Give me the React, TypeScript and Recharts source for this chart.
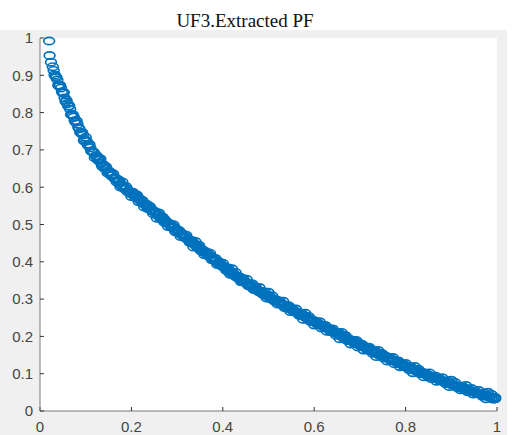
import { ScatterChart, Scatter, XAxis, YAxis } from 'recharts';

const TITLE = 'UF3.Extracted PF';
const xTicks = [0, 0.2, 0.4, 0.6, 0.8, 1];
const yTicks = [0, 0.1, 0.2, 0.3, 0.4, 0.5, 0.6, 0.7, 0.8, 0.9, 1];

// "core" points sit on the middle of the band, "spread" ones give it its width.
const frontTop: [number, number][] = [
  [0.020, 0.992], [0.021, 0.953], [0.024, 0.935],
];

const frontHeadCore: [number, number][] = [
  [0.030, 0.913], [0.034, 0.897], [0.038, 0.888], [0.042, 0.872], [0.046, 0.866],
  [0.050, 0.852], [0.054, 0.839], [0.058, 0.833], [0.062, 0.817], [0.066, 0.809],
  [0.070, 0.794], [0.074, 0.788], [0.078, 0.774], [0.082, 0.769], [0.086, 0.757],
  [0.090, 0.745], [0.094, 0.740], [0.098, 0.728], [0.102, 0.724], [0.106, 0.711],
  [0.110, 0.706], [0.114, 0.695], [0.118, 0.693], [0.122, 0.684], [0.126, 0.675],
  [0.130, 0.674], [0.134, 0.664], [0.138, 0.661], [0.142, 0.650], [0.146, 0.649],
  [0.150, 0.640], [0.154, 0.640], [0.158, 0.632], [0.162, 0.625], [0.166, 0.624],
  [0.170, 0.616], [0.174, 0.615], [0.178, 0.605], [0.182, 0.604], [0.186, 0.595],
  [0.190, 0.596], [0.194, 0.590], [0.198, 0.583],
];

const frontHeadSpread: [number, number][] = [
  [0.028, 0.923], [0.032, 0.901], [0.036, 0.894], [0.040, 0.873], [0.044, 0.873],
  [0.048, 0.856], [0.052, 0.854], [0.056, 0.829], [0.060, 0.824], [0.064, 0.818],
  [0.068, 0.795], [0.072, 0.794], [0.076, 0.778], [0.080, 0.778], [0.084, 0.760],
  [0.088, 0.747], [0.092, 0.747], [0.096, 0.725], [0.100, 0.734], [0.104, 0.715],
  [0.108, 0.715], [0.112, 0.697], [0.116, 0.695], [0.120, 0.679], [0.124, 0.684],
  [0.128, 0.672], [0.132, 0.676], [0.136, 0.656], [0.140, 0.656], [0.144, 0.655],
  [0.148, 0.638], [0.152, 0.641], [0.156, 0.631], [0.160, 0.636], [0.164, 0.623],
  [0.168, 0.614], [0.172, 0.619], [0.176, 0.601], [0.180, 0.614], [0.184, 0.599],
  [0.188, 0.602], [0.192, 0.588], [0.196, 0.588], [0.200, 0.575],
];

const frontMiddleCore: [number, number][] = [
  [0.203, 0.586], [0.206, 0.580], [0.209, 0.579], [0.212, 0.574], [0.215, 0.570],
  [0.218, 0.569], [0.221, 0.563], [0.224, 0.561], [0.227, 0.557], [0.230, 0.553],
  [0.233, 0.554], [0.236, 0.548], [0.239, 0.546], [0.242, 0.541], [0.245, 0.540],
  [0.248, 0.535], [0.251, 0.533], [0.254, 0.531], [0.257, 0.525], [0.260, 0.526],
  [0.263, 0.519], [0.266, 0.519], [0.269, 0.513], [0.272, 0.514], [0.275, 0.507],
  [0.278, 0.506], [0.281, 0.503], [0.284, 0.498], [0.287, 0.498], [0.290, 0.492],
  [0.293, 0.493], [0.296, 0.486], [0.299, 0.487], [0.302, 0.480], [0.305, 0.481],
  [0.308, 0.474], [0.311, 0.475], [0.314, 0.469], [0.317, 0.468], [0.320, 0.464],
  [0.323, 0.461], [0.326, 0.459], [0.329, 0.454], [0.332, 0.455], [0.335, 0.449],
  [0.338, 0.448], [0.341, 0.444], [0.344, 0.440], [0.347, 0.440], [0.350, 0.434],
  [0.353, 0.434], [0.356, 0.428], [0.359, 0.429], [0.362, 0.423], [0.365, 0.423],
  [0.368, 0.417], [0.371, 0.418], [0.374, 0.412], [0.377, 0.411], [0.380, 0.407],
  [0.383, 0.404], [0.386, 0.402], [0.389, 0.397], [0.392, 0.398], [0.395, 0.392],
  [0.398, 0.391], [0.401, 0.386], [0.404, 0.386], [0.407, 0.380], [0.410, 0.380],
  [0.413, 0.375], [0.416, 0.374], [0.419, 0.370], [0.422, 0.367], [0.425, 0.366],
  [0.428, 0.361], [0.431, 0.362], [0.434, 0.356], [0.437, 0.357], [0.440, 0.351],
  [0.443, 0.352], [0.446, 0.346], [0.449, 0.347], [0.452, 0.342], [0.455, 0.340],
  [0.458, 0.339], [0.461, 0.334], [0.464, 0.335], [0.467, 0.329], [0.470, 0.330],
  [0.473, 0.325], [0.476, 0.325], [0.479, 0.320], [0.482, 0.321], [0.485, 0.316],
  [0.488, 0.316], [0.491, 0.312], [0.494, 0.312], [0.497, 0.308], [0.500, 0.307],
];

const frontMiddleSpread: [number, number][] = [
  [0.204, 0.582], [0.208, 0.573], [0.212, 0.579], [0.216, 0.561], [0.220, 0.563],
  [0.224, 0.564], [0.228, 0.547], [0.232, 0.552], [0.236, 0.543], [0.240, 0.549],
  [0.244, 0.537], [0.248, 0.529], [0.252, 0.534], [0.256, 0.517], [0.260, 0.531],
  [0.264, 0.516], [0.268, 0.520], [0.272, 0.506], [0.276, 0.508], [0.280, 0.495],
  [0.284, 0.502], [0.288, 0.493], [0.292, 0.499], [0.296, 0.481], [0.300, 0.483],
  [0.304, 0.484], [0.308, 0.468], [0.312, 0.474], [0.316, 0.465], [0.320, 0.471],
  [0.324, 0.459], [0.328, 0.452], [0.332, 0.457], [0.336, 0.440], [0.340, 0.454],
  [0.344, 0.440], [0.348, 0.444], [0.352, 0.430], [0.356, 0.431], [0.360, 0.419],
  [0.364, 0.426], [0.368, 0.417], [0.372, 0.423], [0.376, 0.406], [0.380, 0.408],
  [0.384, 0.409], [0.388, 0.393], [0.392, 0.399], [0.396, 0.390], [0.400, 0.396],
  [0.404, 0.385], [0.408, 0.377], [0.412, 0.383], [0.416, 0.367], [0.420, 0.381],
  [0.424, 0.367], [0.428, 0.371], [0.432, 0.358], [0.436, 0.360], [0.440, 0.347],
  [0.444, 0.355], [0.448, 0.347], [0.452, 0.353], [0.456, 0.336], [0.460, 0.339],
  [0.464, 0.341], [0.468, 0.326], [0.472, 0.332], [0.476, 0.324], [0.480, 0.331],
  [0.484, 0.320], [0.488, 0.313], [0.492, 0.319], [0.496, 0.303], [0.500, 0.318],
];

const frontLowerCore: [number, number][] = [
  [0.504, 0.302], [0.508, 0.302], [0.512, 0.297], [0.516, 0.296], [0.520, 0.292],
  [0.524, 0.290], [0.528, 0.288], [0.532, 0.283], [0.536, 0.284], [0.540, 0.278],
  [0.544, 0.278], [0.548, 0.273], [0.552, 0.272], [0.556, 0.269], [0.560, 0.265],
  [0.564, 0.264], [0.568, 0.259], [0.572, 0.260], [0.576, 0.254], [0.580, 0.253],
  [0.584, 0.250], [0.588, 0.247], [0.592, 0.246], [0.596, 0.241], [0.600, 0.242],
  [0.604, 0.236], [0.608, 0.236], [0.612, 0.232], [0.616, 0.230], [0.620, 0.228],
  [0.624, 0.224], [0.628, 0.224], [0.632, 0.219], [0.636, 0.219], [0.640, 0.214],
  [0.644, 0.212], [0.648, 0.210], [0.652, 0.206], [0.656, 0.206], [0.660, 0.201],
  [0.664, 0.201], [0.668, 0.196], [0.672, 0.196], [0.676, 0.192], [0.680, 0.190],
  [0.684, 0.188], [0.688, 0.184], [0.692, 0.185], [0.696, 0.180], [0.700, 0.180],
  [0.704, 0.175], [0.708, 0.174], [0.712, 0.171], [0.716, 0.167], [0.720, 0.168],
  [0.724, 0.163], [0.728, 0.163], [0.732, 0.158], [0.736, 0.158], [0.740, 0.154],
  [0.744, 0.153], [0.748, 0.150], [0.752, 0.147], [0.756, 0.147], [0.760, 0.142],
  [0.764, 0.143], [0.768, 0.138], [0.772, 0.137], [0.776, 0.135], [0.780, 0.131],
  [0.784, 0.131], [0.788, 0.127], [0.792, 0.126], [0.796, 0.123], [0.800, 0.121],
  [0.804, 0.120], [0.808, 0.116], [0.812, 0.116], [0.816, 0.112], [0.820, 0.111],
  [0.824, 0.109], [0.828, 0.106], [0.832, 0.106], [0.836, 0.102], [0.840, 0.102],
  [0.844, 0.098], [0.848, 0.097], [0.852, 0.095], [0.856, 0.092], [0.860, 0.092],
  [0.864, 0.088], [0.868, 0.088], [0.872, 0.084], [0.876, 0.084], [0.880, 0.081],
  [0.884, 0.079], [0.888, 0.078], [0.892, 0.075], [0.896, 0.075], [0.900, 0.071],
  [0.904, 0.071], [0.908, 0.068], [0.912, 0.067], [0.916, 0.065], [0.920, 0.062],
  [0.924, 0.063], [0.928, 0.059], [0.932, 0.060], [0.936, 0.056], [0.940, 0.056],
  [0.944, 0.053], [0.948, 0.052], [0.952, 0.051], [0.956, 0.048], [0.960, 0.048],
  [0.964, 0.045], [0.968, 0.045], [0.972, 0.042], [0.976, 0.042], [0.980, 0.039],
  [0.984, 0.039], [0.988, 0.036], [0.992, 0.037], [0.996, 0.033],
];

const frontLowerSpread: [number, number][] = [
  [0.504, 0.304], [0.508, 0.309], [0.512, 0.296], [0.516, 0.298], [0.520, 0.287],
  [0.524, 0.295], [0.528, 0.287], [0.532, 0.294], [0.536, 0.277], [0.540, 0.280],
  [0.544, 0.282], [0.548, 0.267], [0.552, 0.274], [0.556, 0.266], [0.560, 0.273],
  [0.564, 0.262], [0.568, 0.256], [0.572, 0.262], [0.576, 0.246], [0.580, 0.262],
  [0.584, 0.248], [0.588, 0.253], [0.592, 0.240], [0.596, 0.243], [0.600, 0.231],
  [0.604, 0.239], [0.608, 0.232], [0.612, 0.239], [0.616, 0.223], [0.620, 0.226],
  [0.624, 0.229], [0.628, 0.214], [0.632, 0.221], [0.636, 0.213], [0.640, 0.220],
  [0.644, 0.210], [0.648, 0.203], [0.652, 0.210], [0.656, 0.194], [0.660, 0.210],
  [0.664, 0.196], [0.668, 0.202], [0.672, 0.189], [0.676, 0.192], [0.680, 0.180],
  [0.684, 0.189], [0.688, 0.181], [0.692, 0.189], [0.696, 0.172], [0.700, 0.176],
  [0.704, 0.179], [0.708, 0.164], [0.712, 0.171], [0.716, 0.164], [0.720, 0.171],
  [0.724, 0.161], [0.728, 0.155], [0.732, 0.161], [0.736, 0.146], [0.740, 0.162],
  [0.744, 0.148], [0.748, 0.154], [0.752, 0.142], [0.756, 0.145], [0.760, 0.134],
  [0.764, 0.142], [0.768, 0.135], [0.772, 0.143], [0.776, 0.127], [0.780, 0.131],
  [0.784, 0.134], [0.788, 0.119], [0.792, 0.126], [0.796, 0.119], [0.800, 0.127],
  [0.804, 0.117], [0.808, 0.111], [0.812, 0.118], [0.816, 0.103], [0.820, 0.119],
  [0.824, 0.106], [0.828, 0.112], [0.832, 0.100], [0.836, 0.103], [0.840, 0.092],
  [0.844, 0.101], [0.848, 0.094], [0.852, 0.102], [0.856, 0.087], [0.860, 0.091],
  [0.864, 0.094], [0.868, 0.080], [0.872, 0.088], [0.876, 0.081], [0.880, 0.089],
  [0.884, 0.079], [0.888, 0.073], [0.892, 0.081], [0.896, 0.066], [0.900, 0.082],
  [0.904, 0.069], [0.908, 0.076], [0.912, 0.064], [0.916, 0.067], [0.920, 0.057],
  [0.924, 0.066], [0.928, 0.059], [0.932, 0.068], [0.936, 0.052], [0.940, 0.056],
  [0.944, 0.060], [0.948, 0.046], [0.952, 0.053], [0.956, 0.047], [0.960, 0.055],
  [0.964, 0.046], [0.968, 0.040], [0.972, 0.048], [0.976, 0.033], [0.980, 0.050],
  [0.984, 0.037], [0.988, 0.044], [0.992, 0.032], [0.996, 0.036],
];

const points = [
  ...frontTop,
  ...frontHeadCore,
  ...frontHeadSpread,
  ...frontMiddleCore,
  ...frontMiddleSpread,
  ...frontLowerCore,
  ...frontLowerSpread,
].map(([f1, f2]) => ({ f1, f2 }));

const BLUE = '#0072BD';
const AXIS = '#7a7a7a';
const tickStyle = { fontSize: 15, fill: '#444', fontFamily: '"Liberation Sans", Arial, sans-serif' };

// matlab 'o' markers come out slightly wide in the screenshot
const Ring = (props: any) => (
  <ellipse cx={props.cx} cy={props.cy} rx={5.4} ry={3.7} fill="none" stroke={BLUE} strokeWidth={1.7} />
);

export default function App() {
  return (
    <div style={{ position: 'relative', width: 512, height: 435, background: '#fff', overflow: 'hidden' }}>
      <style>{'body{margin:0}'}</style>
      {/* figure + axes backgrounds */}
      <div style={{ position: 'absolute', left: 0, top: 30, width: 507, height: 405, background: '#f0f0f0' }} />
      <div style={{ position: 'absolute', left: 40, top: 38, width: 457, height: 373, background: '#fff' }} />
      <div
        style={{
          position: 'absolute',
          left: 145,
          width: 200,
          top: 11,
          textAlign: 'center',
          fontFamily: '"Liberation Serif", "Times New Roman", serif',
          fontSize: 19,
          lineHeight: '19px',
          color: '#111',
        }}
      >
        {TITLE}
      </div>
      <div style={{ position: 'absolute', left: 0, top: 0 }}>
        <ScatterChart width={512} height={435} margin={{ top: 38, right: 15, bottom: 0, left: 0 }}>
          <XAxis
            xAxisId="b"
            dataKey="f1"
            type="number"
            domain={[0, 1]}
            ticks={xTicks}
            height={24}
            stroke={AXIS}
            tickSize={-4}
            tickMargin={14}
            tick={tickStyle}
            tickLine={{ stroke: '#333' }}
          />
          <XAxis
            xAxisId="t"
            orientation="top"
            type="number"
            domain={[0, 1]}
            ticks={xTicks}
            height={0}
            stroke={AXIS}
            tickSize={-4}
            tick={false}
            tickLine={{ stroke: '#333' }}
          />
          <YAxis
            yAxisId="l"
            dataKey="f2"
            type="number"
            domain={[0, 1]}
            ticks={yTicks}
            width={40}
            stroke={AXIS}
            tickSize={-4}
            tickMargin={11}
            tick={tickStyle}
            tickLine={{ stroke: '#333' }}
          />
          <YAxis
            yAxisId="r"
            orientation="right"
            type="number"
            domain={[0, 1]}
            ticks={yTicks}
            width={0}
            stroke={AXIS}
            tickSize={-4}
            tick={false}
            tickLine={{ stroke: '#333' }}
          />
          <Scatter
            data={points}
            xAxisId="b"
            yAxisId="l"
            shape={Ring}
            isAnimationActive={false}
          />
        </ScatterChart>
      </div>
    </div>
  );
}
